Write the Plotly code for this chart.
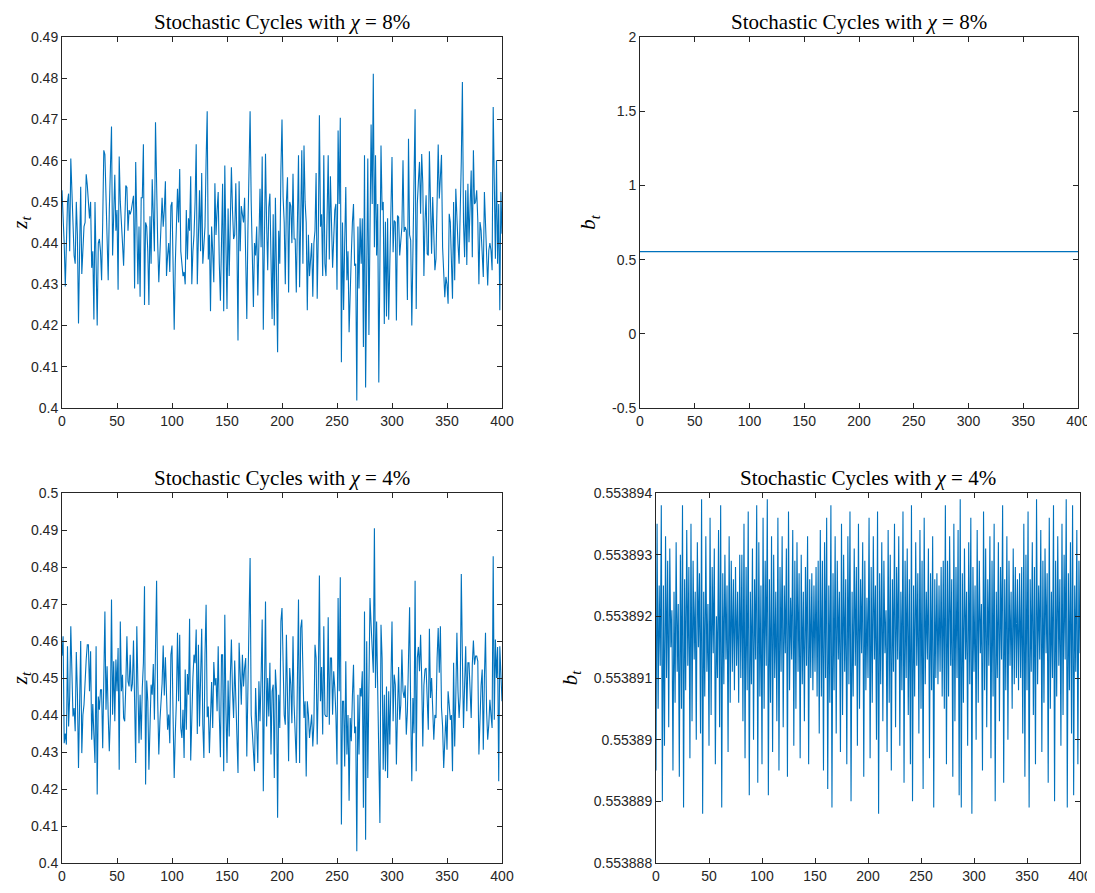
import plotly.graph_objects as go

# ---------------- data ----------------
z8_values = [
    .4528, .4480, .4400, .4295, .4420, .4500, .4520, .4380, .4605, .4520,
    .4410, .4370, .4350, .4500, .4420, .4205, .4380, .4537, .4325, .4410,
    .4440, .4450, .4567, .4540, .4500, .4460, .4500, .4340, .4380, .4215,
    .4500, .4350, .4200, .4400, .4410, .4380, .4310, .4450, .4625, .4615,
    .4500, .4420, .4310, .4480, .4600, .4683, .4370, .4480, .4566, .4430,
    .4480, .4287, .4610, .4500, .4460, .4400, .4345, .4420, .4540, .4535,
    .4430, .4480, .4470, .4480, .4500, .4515, .4290, .4597, .4450, .4300,
    .4440, .4270, .4510, .4510, .4640, .4250, .4450, .4440, .4380, .4250,
    .4465, .4350, .4555, .4450, .4380, .4693, .4490, .4400, .4305, .4380,
    .4440, .4510, .4440, .4480, .4550, .4320, .4370, .4400, .4330, .4490,
    .4500, .4350, .4190, .4350, .4430, .4532, .4450, .4580, .4380, .4350,
    .4320, .4330, .4300, .4480, .4360, .4460, .4430, .4562, .4300, .4380,
    .4420, .4500, .4640, .4300, .4400, .4528, .4380, .4570, .4350, .4400,
    .4440, .4600, .4720, .4360, .4420, .4235, .4440, .4380, .4305, .4545,
    .4420, .4480, .4524, .4350, .4260, .4400, .4544, .4235, .4588, .4400,
    .4240, .4484, .4320, .4450, .4584, .4480, .4410, .4420, .4545, .4400,
    .4164, .4550, .4380, .4490, .4470, .4450, .4510, .4400, .4216, .4430,
    .4600, .4720, .4500, .4350, .4245, .4400, .4370, .4440, .4273, .4400,
    .4532, .4390, .4610, .4190, .4400, .4617, .4450, .4334, .4487, .4520,
    .4360, .4216, .4470, .4200, .4510, .4360, .4135, .4430, .4350, .4576,
    .4700, .4512, .4450, .4300, .4500, .4560, .4280, .4500, .4490, .4400,
    .4568, .4410, .4410, .4280, .4500, .4613, .4293, .4500, .4625, .4350,
    .4637, .4500, .4450, .4237, .4420, .4320, .4370, .4400, .4270, .4400,
    .4430, .4570, .4265, .4420, .4710, .4440, .4470, .4320, .4613, .4350,
    .4320, .4450, .4613, .4360, .4562, .4450, .4340, .4410, .4480, .4495,
    .4287, .4673, .4495, .4704, .4111, .4450, .4238, .4400, .4536, .4310,
    .4380, .4184, .4300, .4370, .4450, .4495, .4345, .4350, .4018, .4440,
    .4290, .4460, .4350, .4460, .4148, .4613, .4050, .4450, .4605, .4177,
    .4400, .4688, .4495, .4811, .4390, .4613, .4370, .4495, .4062, .4460,
    .4637, .4480, .4500, .4204, .4452, .4222, .4460, .4214, .4350, .4480,
    .4609, .4378, .4455, .4451, .4212, .4467, .4463, .4370, .4420, .4439,
    .4601, .4427, .4439, .4431, .4262, .4653, .4420, .4407, .4200, .4366,
    .4500, .4725, .4240, .4495, .4550, .4597, .4471, .4616, .4544, .4320,
    .4450, .4516, .4374, .4370, .4623, .4512, .4374, .4512, .4400, .4334,
    .4362, .4500, .4639, .4508, .4560, .4614, .4390, .4330, .4269, .4318,
    .4300, .4253, .4471, .4451, .4350, .4265, .4500, .4310, .4532, .4450,
    .4398, .4350, .4447, .4600, .4791, .4450, .4366, .4528, .4347, .4544,
    .4402, .4500, .4576, .4366, .4625, .4495, .4500, .4528, .4455, .4300,
    .4451, .4431, .4380, .4318, .4524, .4455, .4380, .4297, .4382, .4400,
    .4382, .4334, .4730, .4512, .4362, .4601, .4350, .4495, .4237, .4524,
    .4423,
]

b8_times = [0, 400]
b8_values = [0.5539, 0.5539]

z4_values = [
    .4560, .4613, .4324, .4350, .4320, .4586, .4369, .4450, .4640, .4536,
    .4396, .4419, .4356, .4570, .4460, .4257, .4514, .4600, .4297, .4400,
    .4428, .4500, .4550, .4590, .4590, .4464, .4572, .4333, .4430, .4345,
    .4270, .4586, .4185, .4450, .4414, .4468, .4468, .4310, .4500, .4680,
    .4414, .4532, .4400, .4302, .4401, .4712, .4401, .4545, .4383, .4550,
    .4464, .4581, .4252, .4653, .4464, .4509, .4392, .4383, .4480, .4613,
    .4491, .4477, .4563, .4464, .4484, .4601, .4437, .4270, .4640, .4446,
    .4324, .4455, .4333, .4473, .4541, .4748, .4212, .4493, .4437, .4252,
    .4419, .4482, .4455, .4538, .4387, .4600, .4763, .4437, .4293, .4383,
    .4440, .4486, .4588, .4453, .4556, .4437, .4360, .4401, .4324, .4563,
    .4588, .4392, .4230, .4350, .4437, .4622, .4437, .4617, .4365, .4338,
    .4414, .4284, .4523, .4360, .4511, .4455, .4660, .4277, .4410, .4500,
    .4563, .4540, .4631, .4349, .4590, .4369, .4500, .4633, .4374, .4284,
    .4563, .4698, .4394, .4423, .4297, .4440, .4489, .4365, .4543, .4480,
    .4500, .4410, .4586, .4400, .4286, .4563, .4563, .4248, .4671, .4419,
    .4270, .4493, .4342, .4500, .4604, .4464, .4392, .4547, .4446, .4400,
    .4243, .4595, .4500, .4428, .4563, .4477, .4527, .4554, .4288, .4523,
    .4650, .4824, .4400, .4356, .4300, .4248, .4473, .4368, .4270, .4491,
    .4383, .4500, .4658, .4194, .4550, .4707, .4369, .4500, .4396, .4541,
    .4293, .4464, .4482, .4230, .4523, .4464, .4122, .4455, .4365, .4653,
    .4689, .4482, .4400, .4374, .4617, .4450, .4275, .4527, .4482, .4378,
    .4613, .4428, .4350, .4270, .4491, .4712, .4270, .4635, .4658, .4500,
    .4392, .4437, .4234, .4437, .4401, .4338, .4380, .4401, .4315, .4378,
    .4590, .4554, .4320, .4482, .4777, .4437, .4530, .4347, .4640, .4401,
    .4396, .4396, .4664, .4374, .4554, .4554, .4401, .4518, .4473, .4400,
    .4266, .4716, .4464, .4772, .4104, .4437, .4437, .4261, .4545, .4293,
    .4400, .4168, .4392, .4329, .4450, .4536, .4351, .4369, .4032, .4455,
    .4293, .4473, .4450, .4518, .4149, .4680, .4063, .4599, .4230, .4491,
    .4716, .4644, .4580, .4514, .4905, .4473, .4653, .4464, .4380, .4108,
    .4644, .4554, .4252, .4455, .4248, .4477, .4230, .4464, .4320, .4450,
    .4653, .4383, .4509, .4482, .4266, .4410, .4530, .4387, .4428, .4577,
    .4464, .4446, .4480, .4347, .4410, .4550, .4691, .4410, .4221, .4446,
    .4351, .4763, .4248, .4554, .4584, .4518, .4617, .4500, .4315, .4480,
    .4523, .4527, .4414, .4360, .4633, .4446, .4500, .4387, .4333, .4400,
    .4392, .4554, .4635, .4514, .4640, .4419, .4369, .4257, .4365, .4400,
    .4306, .4464, .4428, .4387, .4400, .4248, .4541, .4315, .4450, .4622,
    .4464, .4392, .4450, .4781, .4554, .4365, .4480, .4586, .4410, .4541,
    .4541, .4450, .4392, .4536, .4601, .4536, .4559, .4559, .4545, .4293,
    .4419, .4480, .4523, .4306, .4500, .4622, .4410, .4333, .4374, .4441,
    .4400, .4365, .4829, .4387, .4604, .4500, .4584, .4221, .4586, .4500,
    .4437,
]

b4_values = [
    0.5538895, 0.5538935, 0.5538905, 0.5538925, 0.5538912, 0.5538938, 0.5538890, 0.5538925, 0.5538899, 0.5538933,
    0.5538910, 0.5538929, 0.5538902, 0.5538931, 0.5538915, 0.5538921, 0.5538895, 0.5538924, 0.5538906, 0.5538932,
    0.5538911, 0.5538922, 0.5538894, 0.5538930, 0.5538905, 0.5538938, 0.5538889, 0.5538926, 0.5538908, 0.5538934,
    0.5538912, 0.5538928, 0.5538897, 0.5538935, 0.5538903, 0.5538929, 0.5538913, 0.5538924, 0.5538900, 0.5538932,
    0.5538915, 0.5538927, 0.5538901, 0.5538939, 0.5538888, 0.5538924, 0.5538907, 0.5538933, 0.5538911, 0.5538922,
    0.5538899, 0.5538936, 0.5538904, 0.5538928, 0.5538914, 0.5538931, 0.5538896, 0.5538920, 0.5538910, 0.5538934,
    0.5538902, 0.5538938, 0.5538889, 0.5538927, 0.5538909, 0.5538930, 0.5538913, 0.5538925, 0.5538898, 0.5538933,
    0.5538906, 0.5538929, 0.5538911, 0.5538926, 0.5538908, 0.5538928, 0.5538912, 0.5538924, 0.5538906, 0.5538930,
    0.5538910, 0.5538930, 0.5538903, 0.5538935, 0.5538897, 0.5538928, 0.5538908, 0.5538937, 0.5538891, 0.5538924,
    0.5538909, 0.5538931, 0.5538900, 0.5538926, 0.5538913, 0.5538938, 0.5538893, 0.5538932, 0.5538907, 0.5538925,
    0.5538896, 0.5538936, 0.5538905, 0.5538929, 0.5538912, 0.5538939, 0.5538891, 0.5538926, 0.5538906, 0.5538933,
    0.5538898, 0.5538930, 0.5538910, 0.5538924, 0.5538903, 0.5538936, 0.5538895, 0.5538928, 0.5538911, 0.5538933,
    0.5538902, 0.5538925, 0.5538914, 0.5538931, 0.5538894, 0.5538937, 0.5538908, 0.5538923, 0.5538913, 0.5538934,
    0.5538899, 0.5538929, 0.5538905, 0.5538932, 0.5538911, 0.5538927, 0.5538897, 0.5538930, 0.5538909, 0.5538924,
    0.5538903, 0.5538928, 0.5538912, 0.5538933, 0.5538896, 0.5538926, 0.5538910, 0.5538927, 0.5538908, 0.5538925,
    0.5538911, 0.5538928, 0.5538907, 0.5538929, 0.5538901, 0.5538934, 0.5538907, 0.5538929, 0.5538895, 0.5538932,
    0.5538910, 0.5538936, 0.5538892, 0.5538925, 0.5538906, 0.5538938, 0.5538889, 0.5538927, 0.5538908, 0.5538933,
    0.5538901, 0.5538929, 0.5538913, 0.5538924, 0.5538898, 0.5538935, 0.5538904, 0.5538930, 0.5538911, 0.5538926,
    0.5538896, 0.5538933, 0.5538909, 0.5538937, 0.5538890, 0.5538924, 0.5538907, 0.5538931, 0.5538912, 0.5538928,
    0.5538899, 0.5538935, 0.5538905, 0.5538926, 0.5538914, 0.5538932, 0.5538894, 0.5538929, 0.5538908, 0.5538923,
    0.5538910, 0.5538936, 0.5538897, 0.5538928, 0.5538906, 0.5538933, 0.5538913, 0.5538925, 0.5538900, 0.5538937,
    0.5538888, 0.5538927, 0.5538909, 0.5538932, 0.5538903, 0.5538929, 0.5538914, 0.5538921, 0.5538898, 0.5538934,
    0.5538906, 0.5538930, 0.5538895, 0.5538926, 0.5538911, 0.5538935, 0.5538902, 0.5538928, 0.5538913, 0.5538933,
    0.5538899, 0.5538924, 0.5538908, 0.5538937, 0.5538893, 0.5538929, 0.5538910, 0.5538931, 0.5538904, 0.5538926,
    0.5538896, 0.5538938, 0.5538890, 0.5538925, 0.5538907, 0.5538932, 0.5538912, 0.5538927, 0.5538901, 0.5538934,
    0.5538905, 0.5538929, 0.5538892, 0.5538936, 0.5538909, 0.5538924, 0.5538913, 0.5538931, 0.5538897, 0.5538927,
    0.5538908, 0.5538933, 0.5538889, 0.5538926, 0.5538910, 0.5538927, 0.5538909, 0.5538925, 0.5538911, 0.5538928,
    0.5538907, 0.5538929, 0.5538905, 0.5538938, 0.5538896, 0.5538929, 0.5538907, 0.5538933, 0.5538912, 0.5538926,
    0.5538894, 0.5538935, 0.5538903, 0.5538928, 0.5538910, 0.5538934, 0.5538891, 0.5538939, 0.5538889, 0.5538927,
    0.5538906, 0.5538931, 0.5538913, 0.5538924, 0.5538899, 0.5538932, 0.5538909, 0.5538936, 0.5538888, 0.5538928,
    0.5538911, 0.5538925, 0.5538900, 0.5538934, 0.5538906, 0.5538929, 0.5538914, 0.5538922, 0.5538895, 0.5538937,
    0.5538908, 0.5538931, 0.5538902, 0.5538926, 0.5538912, 0.5538933, 0.5538897, 0.5538929, 0.5538907, 0.5538935,
    0.5538890, 0.5538924, 0.5538910, 0.5538932, 0.5538903, 0.5538928, 0.5538913, 0.5538938, 0.5538893, 0.5538926,
    0.5538908, 0.5538933, 0.5538900, 0.5538929, 0.5538912, 0.5538924, 0.5538905, 0.5538931, 0.5538909, 0.5538928,
    0.5538910, 0.5538926, 0.5538908, 0.5538927, 0.5538910, 0.5538928, 0.5538901, 0.5538935, 0.5538894, 0.5538930,
    0.5538908, 0.5538937, 0.5538889, 0.5538926, 0.5538911, 0.5538932, 0.5538904, 0.5538928, 0.5538896, 0.5538939,
    0.5538909, 0.5538925, 0.5538913, 0.5538934, 0.5538898, 0.5538929, 0.5538906, 0.5538931, 0.5538914, 0.5538927,
    0.5538893, 0.5538936, 0.5538905, 0.5538924, 0.5538910, 0.5538938, 0.5538890, 0.5538929, 0.5538907, 0.5538933,
    0.5538912, 0.5538926, 0.5538899, 0.5538935, 0.5538904, 0.5538930, 0.5538913, 0.5538939, 0.5538889, 0.5538927,
    0.5538908, 0.5538932, 0.5538901, 0.5538938, 0.5538891, 0.5538925, 0.5538911, 0.5538934, 0.5538896, 0.5538929,
    0.5538914,
]

panel_titles = ["Stochastic Cycles with <i>χ</i> = 8%", "Stochastic Cycles with <i>χ</i> = 8%",
                "Stochastic Cycles with <i>χ</i> = 4%", "Stochastic Cycles with <i>χ</i> = 4%"]
y_labels = ["<i>z<sub>t</sub></i>", "<i>b<sub>t</sub></i>", "<i>z<sub>t</sub></i>", "<i>b<sub>t</sub></i>"]

x_ticks = [0, 50, 100, 150, 200, 250, 300, 350, 400]
z8_ticks = [0.40, 0.41, 0.42, 0.43, 0.44, 0.45, 0.46, 0.47, 0.48, 0.49]
z8_ticktext = ["0.4", "0.41", "0.42", "0.43", "0.44", "0.45", "0.46", "0.47", "0.48", "0.49"]
b8_ticks = [-0.5, 0, 0.5, 1, 1.5, 2]
b8_ticktext = ["-0.5", "0", "0.5", "1", "1.5", "2"]
z4_ticks = [0.40, 0.41, 0.42, 0.43, 0.44, 0.45, 0.46, 0.47, 0.48, 0.49, 0.50]
z4_ticktext = ["0.4", "0.41", "0.42", "0.43", "0.44", "0.45", "0.46", "0.47", "0.48", "0.49", "0.5"]
b4_ticks = [0.553888, 0.553889, 0.553890, 0.553891, 0.553892, 0.553893, 0.553894]
b4_ticktext = ["0.553888", "0.553889", "0.55389", "0.553891", "0.553892", "0.553893", "0.553894"]

# ---------------- figure ----------------
PAGE = 8                      # default page margin around the plot div
W, H = 1095 - PAGE, 893 - PAGE
LINE = "#0072BD"
AX = "#262626"

# panel pixel boxes in the screenshot: (left, right, top, bottom)
boxes = [(62, 502, 37, 408), (640, 1078, 37, 408), (62, 502, 493, 863), (656, 1080, 493, 863)]


def xdom(b):
    return [(b[0] - PAGE) / W, (b[1] - PAGE) / W]


def ydom(b):
    return [1 - (b[3] - PAGE) / H, 1 - (b[2] - PAGE) / H]


fig = go.Figure()
series = [
    (list(range(len(z8_values))), z8_values),
    (b8_times, b8_values),
    (list(range(len(z4_values))), z4_values),
    (list(range(len(b4_values))), b4_values),
]
for i, (xs, ys) in enumerate(series):
    sfx = "" if i == 0 else str(i + 1)
    fig.add_trace(go.Scatter(x=xs, y=ys, mode="lines", line=dict(color=LINE, width=1.1),
                             xaxis="x" + sfx, yaxis="y" + sfx, hoverinfo="skip"))

common = dict(showline=True, linecolor=AX, linewidth=1, mirror="ticks", ticks="inside",
              ticklen=5, tickwidth=1, tickcolor=AX, showgrid=False, zeroline=False,
              automargin=False,
              tickfont=dict(family="Liberation Sans, Arial, sans-serif", size=14, color=AX))

yspecs = [([0.40, 0.49], z8_ticks, z8_ticktext), ([-0.5, 2], b8_ticks, b8_ticktext),
          ([0.40, 0.50], z4_ticks, z4_ticktext), ([0.553888, 0.553894], b4_ticks, b4_ticktext)]

layout = dict(width=W, height=H, margin=dict(l=0, r=0, t=0, b=0, autoexpand=False), autosize=False,
              paper_bgcolor="white", plot_bgcolor="white", showlegend=False)
annotations = []
for i, b in enumerate(boxes):
    sfx = "" if i == 0 else str(i + 1)
    layout["xaxis" + sfx] = dict(common, domain=xdom(b), range=[0, 400], tickmode="array",
                                 tickvals=x_ticks, ticktext=[str(v) for v in x_ticks],
                                 anchor="y" + sfx)
    rng, tv, tt = yspecs[i]
    layout["yaxis" + sfx] = dict(common, domain=ydom(b), range=rng, tickmode="array",
                                 tickvals=tv, ticktext=tt, anchor="x" + sfx,
                                 title=dict(text=y_labels[i], standoff=10,
                                            font=dict(family="Liberation Serif, serif", size=21, color="black")))
    annotations.append(dict(text=panel_titles[i], xref="paper", yref="paper",
                            x=((b[0] + b[1]) / 2 - PAGE) / W, y=1 - (b[2] - PAGE) / H,
                            xanchor="center", yanchor="bottom", borderpad=0,
                            yshift=2, showarrow=False,
                            font=dict(family="Liberation Serif, serif", size=21, color="black")))
layout["annotations"] = annotations
fig.update_layout(**layout)
fig.write_html("out.html")
